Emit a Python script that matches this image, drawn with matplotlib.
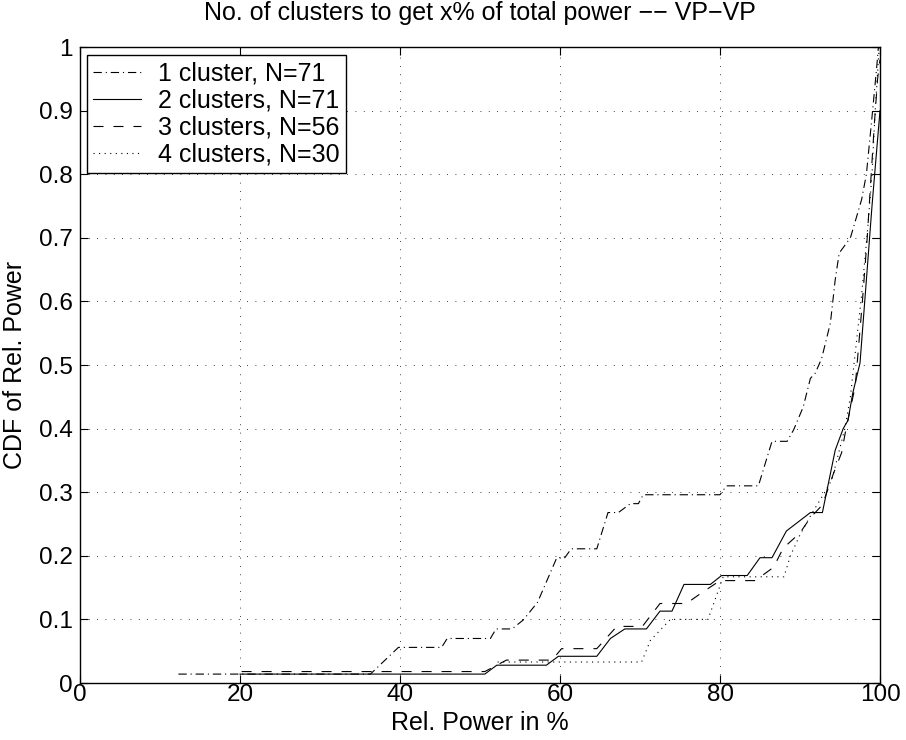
import numpy as np
import matplotlib
matplotlib.use("Agg")
import matplotlib.pyplot as plt

plt.rcParams['font.family'] = ['Liberation Sans', 'DejaVu Sans']

# values (Rel. Power in %, CDF)
x1 = [12.3, 36.3, 39.8, 45.2, 45.9, 51.3, 52.0, 54.0, 55.4, 57.2, 59.6, 60.6, 61.4, 64.6, 66.0, 67.3,
      68.8, 69.8, 70.4, 80.0, 80.8, 84.8, 86.5, 88.4, 89.2, 90.4, 91.3, 91.9, 92.7, 93.8, 94.4, 94.9,
      96.3, 97.7, 98.3, 99.0, 99.6, 99.8]
y1 = [0.014, 0.014, 0.056, 0.056, 0.070, 0.070, 0.085, 0.085, 0.099, 0.127, 0.197, 0.197, 0.211, 0.211, 0.268, 0.268,
      0.282, 0.282, 0.296, 0.296, 0.310, 0.310, 0.380, 0.380, 0.398, 0.434, 0.479, 0.487, 0.51, 0.566, 0.634, 0.676,
      0.70, 0.76, 0.80, 0.89, 0.97, 1.0]

x2 = [20.0, 50.6, 52.1, 58.3, 59.8, 64.6, 66.3, 68.1, 70.8, 72.5, 74.0, 75.5, 78.8, 80.2, 83.4, 85.0,
      86.5, 88.3, 91.3, 92.8, 94.4, 95.4, 96.0, 96.6, 97.5, 98.3, 99.0, 99.6, 100.0]
y2 = [0.014, 0.014, 0.028, 0.028, 0.042, 0.042, 0.070, 0.085, 0.085, 0.113, 0.113, 0.155, 0.155, 0.169, 0.169, 0.197,
      0.197, 0.239, 0.268, 0.268, 0.366, 0.400, 0.413, 0.456, 0.503, 0.634, 0.75, 0.84, 0.90]

x3 = [20.2, 50.6, 53.3, 59.0, 60.2, 64.6, 67.1, 70.3, 72.5, 75.8, 77.5, 80.0, 84.4, 86.7, 87.9, 90.0,
      91.3, 92.8, 94.2, 95.2, 95.8, 96.9, 97.8, 98.4, 98.9, 99.3, 99.7, 100.0]
y3 = [0.018, 0.018, 0.036, 0.036, 0.054, 0.054, 0.089, 0.089, 0.125, 0.125, 0.140, 0.161, 0.161, 0.182, 0.212, 0.236,
      0.260, 0.280, 0.330, 0.362, 0.403, 0.466, 0.60, 0.70, 0.80, 0.88, 0.95, 0.98]

x4 = [52.2, 70.2, 71.3, 73.8, 78.5, 80.4, 88.0, 88.8, 90.0, 91.5, 93.1, 94.0, 95.6, 96.3, 97.7, 98.5,
      99.0, 99.4, 99.9]
y4 = [0.033, 0.033, 0.067, 0.100, 0.100, 0.167, 0.167, 0.200, 0.233, 0.267, 0.300, 0.320, 0.400, 0.450, 0.61, 0.72,
      0.80, 0.90, 1.0]

labels = ['1 cluster, N=71', '2 clusters, N=71', '3 clusters, N=56', '4 clusters, N=30']
xticks = [0, 20, 40, 60, 80, 100]
yticks = [0, 0.1, 0.2, 0.3, 0.4, 0.5, 0.6, 0.7, 0.8, 0.9, 1]
ytick_labels = ['0', '0.1', '0.2', '0.3', '0.4', '0.5', '0.6', '0.7', '0.8', '0.9', '1']

fs = 18
fig = plt.figure(figsize=(9.06, 7.40), dpi=100)
ax = fig.add_axes([80/906, 1-683/740, 800/906, 636/740])

lw = 0.8
ax.plot(x1, y1, color='k', lw=lw, dashes=(7.5, 3.5, 1.0, 3.5), label=labels[0])
ax.plot(x2, y2, color='k', lw=lw, ls='-', label=labels[1])
ax.plot(x3, y3, color='k', lw=lw, dashes=(9.0, 9.0), label=labels[2])
ax.plot(x4, y4, color='k', lw=lw, dashes=(1.0, 4.0), label=labels[3])

ax.set_xlim(0, 100)
ax.set_ylim(0, 1)
ax.set_xticks(xticks)
ax.set_xticklabels([str(t) for t in xticks])
ax.set_yticks(yticks)
ax.set_yticklabels(ytick_labels)
ax.grid(True, color='k', lw=0.6, dashes=(1.0, 9.0))
ax.tick_params(direction='in', length=5.5, width=0.8, top=True, right=True, labelsize=17.5)
ax.tick_params(axis='x', pad=1)
ax.tick_params(axis='y', pad=5)
for s in ax.spines.values():
    s.set_linewidth(1.0)

ax.set_xlabel('Rel. Power in %', fontsize=fs)
ax.xaxis.set_label_coords(0.5, -0.044)
ax.xaxis.label.set_va('top')
ax.set_ylabel('CDF of Rel. Power', fontsize=fs)
ax.yaxis.set_label_coords(-0.066, 0.5)
ax.set_title('No. of clusters to get x% of total power \u2212\u2212 VP\u2212VP', fontsize=fs, y=1.029, va='baseline')

leg = ax.legend(loc='upper left', bbox_to_anchor=(0.009, 0.987), borderaxespad=0, fontsize=fs,
                fancybox=False, framealpha=1, edgecolor='k', handlelength=1.9, handletextpad=0.7,
                labelspacing=0.12, borderpad=0.25)
leg.get_frame().set_linewidth(1.0)

fig.savefig('out.png', dpi=100)
